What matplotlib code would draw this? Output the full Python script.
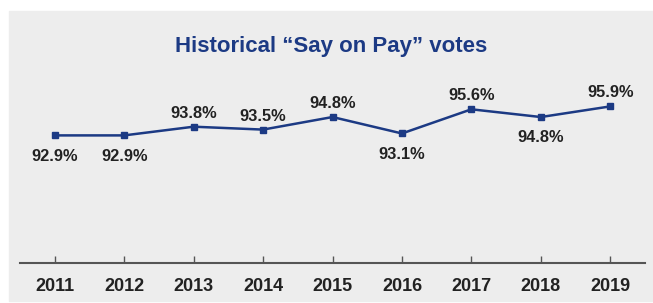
import matplotlib
matplotlib.use("Agg")
import matplotlib.pyplot as plt
from matplotlib.patches import Rectangle

years = ["2011", "2012", "2013", "2014", "2015", "2016", "2017", "2018", "2019"]
votes = [92.9, 92.9, 93.8, 93.5, 94.8, 93.1, 95.6, 94.8, 95.9]
label_above = [False, False, True, True, True, False, True, False, True]

navy = "#1c3a84"
ink = "#222222"
plt.rcParams["font.family"] = ["Liberation Sans", "DejaVu Sans"]

W, H = 653, 303
fig = plt.figure(figsize=(W / 100, H / 100), dpi=100)
fig.add_artist(Rectangle((9 / W, 2 / H), 1 - 9 / W, 1 - 13 / H,
                         transform=fig.transFigure, color="#ededed", zorder=-1))

ax = fig.add_axes([20 / W, 1 - 263 / H, 625 / W, 203 / H])
ax.set_zorder(2)
ax.patch.set_alpha(0)
x = list(range(len(years)))
ax.plot(x, votes, color=navy, lw=1.8, marker="s", ms=4.2, zorder=3)

for xi, v, up in zip(x, votes, label_above):
    ax.annotate(f"{v:.1f}%", (xi, v), xytext=(0, 6.5 if up else -9.5),
                textcoords="offset points", ha="center",
                va="baseline" if up else "top",
                fontsize=11.8, fontweight="bold", color=ink)

ax.set_xlim(-0.5, 8.5)
ax.set_ylim(79.7, 100.7)
for s in ["top", "right", "left"]:
    ax.spines[s].set_visible(False)
ax.spines["bottom"].set_color("#555555")
ax.spines["bottom"].set_linewidth(1.5)
ax.set_yticks([])
ax.set_xticks(x)
ax.set_xticklabels(years, fontsize=13, fontweight="bold", color=ink)
ax.tick_params(axis="x", direction="in", length=5, width=1, color="#555555", pad=10.5)

fig.text(331 / W, 1 - 52 / H, "Historical \u201cSay on Pay\u201d votes",
         ha="center", va="baseline", fontsize=16, fontweight="bold", color=navy,
         zorder=3)

fig.savefig("out.png", dpi=100, facecolor="white")
